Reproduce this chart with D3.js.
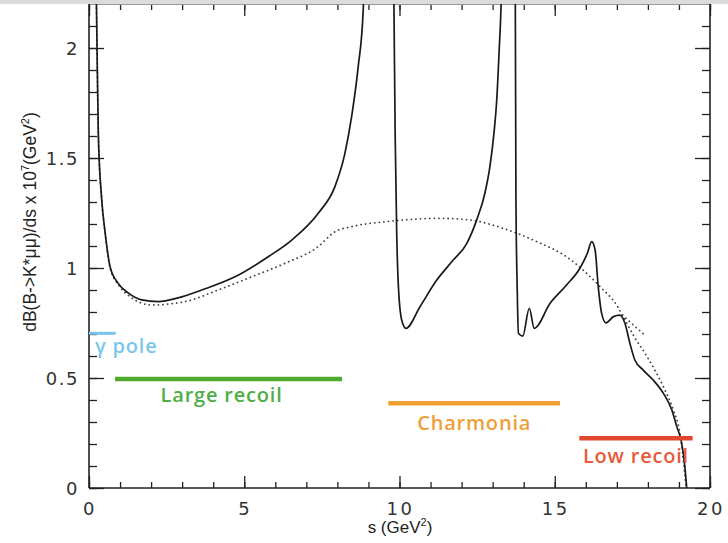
<!DOCTYPE html>
<html>
<head>
<meta charset="utf-8">
<script src="https://cdn.jsdelivr.net/npm/d3@7"></script>
<style>
  html, body { margin: 0; padding: 0; background: #fff; }
  svg { display: block; }
</style>
</head>
<body>
<svg id="chart" width="728" height="543"></svg>
<script>
// ---------------- data ----------------
// Solid curve (with charmonium resonances); values above the frame are clipped
const solidS = [0.20, 0.25, 0.30, 0.41, 0.52, 0.68, 0.94, 1.27, 1.70, 2.23, 2.87, 3.63, 4.70, 5.76, 6.53, 7.39, 7.92, 8.24, 8.46, 8.67, 8.83, 8.92,
  9.74, 9.82, 9.86, 9.91, 9.96, 10.07, 10.21, 10.66, 11.20, 11.73, 12.16, 12.49, 12.75, 12.91, 13.04, 13.13, 13.21, 13.27, 13.33,
  13.68, 13.73, 13.75, 13.79, 13.83, 13.97, 14.18, 14.34, 14.85, 15.38, 15.81, 16.05, 16.19, 16.30, 16.40, 16.51, 16.65, 16.89, 17.10,
  17.26, 17.42, 17.58, 17.85, 18.17, 18.50, 18.77, 18.93, 19.09, 19.19, 19.25];
const solidV = [2.60, 2.095, 1.61, 1.31, 1.16, 1.005, 0.93, 0.886, 0.855, 0.847, 0.864, 0.90, 0.96, 1.05, 1.127, 1.25, 1.37, 1.52, 1.69, 1.915, 2.17, 2.60,
  2.60, 2.20, 1.61, 1.16, 0.93, 0.764, 0.726, 0.824, 0.945, 1.036, 1.11, 1.22, 1.34, 1.46, 1.61, 1.76, 1.99, 2.19, 2.60,
  2.60, 2.20, 1.31, 0.915, 0.703, 0.69, 0.817, 0.726, 0.84, 0.923, 0.999, 1.067, 1.12, 1.082, 0.915, 0.794, 0.751, 0.779, 0.786,
  0.749, 0.658, 0.582, 0.536, 0.491, 0.43, 0.355, 0.279, 0.203, 0.097, 0.0];

// Dotted curve (non-resonant)
const dottedS = [0.20, 0.25, 0.30, 0.41, 0.52, 0.68, 0.94, 1.27, 2.02, 3.09, 4.16, 5.24, 6.31, 7.38, 7.92, 8.46, 9.53, 10.12, 11.20, 12.27,
  13.34, 14.42, 15.38, 16.46, 17.00, 17.18, 17.55, 17.96, 18.50, 18.82, 19.03, 19.14, 19.23];
const dottedV = [2.60, 2.095, 1.61, 1.31, 1.16, 1.0, 0.925, 0.875, 0.832, 0.847, 0.90, 0.96, 1.021, 1.097, 1.165, 1.188, 1.21, 1.218, 1.226, 1.218,
  1.18, 1.12, 1.051, 0.915, 0.83, 0.786, 0.69, 0.60, 0.46, 0.355, 0.249, 0.127, 0.0];

// Short dotted branch
const branchS = [17.18, 17.50, 17.90];
const branchV = [0.786, 0.745, 0.695];

// Kinematic regions
const regionNames = ["\u03b3 pole", "Large recoil", "Charmonia", "Low recoil"];
const regionStart = [0.0, 0.84, 9.64, 15.79];
const regionEnd   = [0.86, 8.15, 15.17, 19.44];
const regionLevel = [0.703, 0.495, 0.385, 0.226];
const regionColors = ["#78c4e8", "#4daa2c", "#f0a032", "#e0472d"];
const regionTextColors = ["#7cc6ea", "#4fae45", "#eca03a", "#e85a3a"];

// Axes
const xMajor = [0, 5, 10, 15, 20];
const xMinor = d3.range(0, 21, 1);
const yMajor = [0, 0.5, 1, 1.5, 2];
const yMinor = d3.range(0, 22, 1).map(d => d / 10);
const xTitle = "s (GeV";
const yTitle = "dB(B->K*\u03bc\u03bc)/ds x 10";

// ---------------- drawing ----------------
const svg = d3.select("#chart");
const L = 89, R = 710, T = 4, B = 488;
const x = d3.scaleLinear().domain([0, 20]).range([L, R]);
const y = d3.scaleLinear().domain([0, 2.2]).range([B, T]);

// top grey band (screenshot edge)
svg.append("rect").attr("x", 0).attr("y", 0).attr("width", 728).attr("height", 4).attr("fill", "#dcdcdc");

svg.append("defs").append("clipPath").attr("id", "clip")
  .append("rect").attr("x", L).attr("y", T).attr("width", R - L).attr("height", B - T);

const axisColor = "#222";
function styleAxis(g) {
  g.select(".domain").remove();
  g.selectAll(".tick line").attr("stroke", axisColor).attr("stroke-width", 1.3);
  g.selectAll("text").remove();
}
// bottom
svg.append("g").attr("transform", `translate(0,${B})`).call(d3.axisBottom(x).tickValues(xMinor).tickSize(-6)).call(styleAxis);
svg.append("g").attr("transform", `translate(0,${B})`).call(d3.axisBottom(x).tickValues(xMajor).tickSize(-12)).call(styleAxis);
// top
svg.append("g").attr("transform", `translate(0,${T})`).call(d3.axisTop(x).tickValues(xMinor).tickSize(-6)).call(styleAxis);
svg.append("g").attr("transform", `translate(0,${T})`).call(d3.axisTop(x).tickValues(xMajor).tickSize(-12)).call(styleAxis);
// left
svg.append("g").attr("transform", `translate(${L},0)`).call(d3.axisLeft(y).tickValues(yMinor).tickSize(-8)).call(styleAxis);
svg.append("g").attr("transform", `translate(${L},0)`).call(d3.axisLeft(y).tickValues(yMajor).tickSize(-15)).call(styleAxis);
// right
svg.append("g").attr("transform", `translate(${R},0)`).call(d3.axisRight(y).tickValues(yMinor).tickSize(-8)).call(styleAxis);
svg.append("g").attr("transform", `translate(${R},0)`).call(d3.axisRight(y).tickValues(yMajor).tickSize(-15)).call(styleAxis);

// frame
svg.append("line").attr("x1", L).attr("x2", R).attr("y1", T + 0.5).attr("y2", T + 0.5).attr("stroke", "#999").attr("stroke-width", 1);
svg.append("line").attr("x1", L).attr("x2", R).attr("y1", B).attr("y2", B).attr("stroke", axisColor).attr("stroke-width", 1.6);
svg.append("line").attr("x1", L).attr("x2", L).attr("y1", T).attr("y2", B).attr("stroke", axisColor).attr("stroke-width", 1.6);
svg.append("line").attr("x1", R).attr("x2", R).attr("y1", T).attr("y2", B).attr("stroke", axisColor).attr("stroke-width", 1.6);

// tick labels
const tickFont = "'DejaVu Sans', sans-serif";
svg.append("g").selectAll("text").data(xMajor).join("text")
  .attr("x", d => x(d) + 1).attr("y", B + 27)
  .attr("text-anchor", "middle")
  .attr("font-family", tickFont).attr("font-size", 18).attr("letter-spacing", 2.5)
  .attr("fill", "#333").text(d => d);
svg.append("g").selectAll("text").data(yMajor).join("text")
  .attr("x", 79).attr("y", d => y(d) + 7)
  .attr("text-anchor", "end")
  .attr("font-family", tickFont).attr("font-size", 18).attr("letter-spacing", 1.5)
  .attr("fill", "#333").text(d => d);

// axis titles
const xt = svg.append("text").attr("x", 400).attr("y", 533).attr("text-anchor", "middle")
  .attr("font-family", "'Liberation Sans', Arial, sans-serif").attr("font-size", 17).attr("fill", "#222");
xt.append("tspan").text(xTitle);
xt.append("tspan").attr("dy", -7).attr("font-size", 11).text("2");
xt.append("tspan").attr("dy", 7).text(")");

const yt = svg.append("text").attr("transform", "translate(36,222) rotate(-90)").attr("text-anchor", "middle")
  .attr("font-family", "'Liberation Sans', Arial, sans-serif").attr("font-size", 17.5).attr("fill", "#222");
yt.append("tspan").text(yTitle);
yt.append("tspan").attr("dy", -7).attr("font-size", 11).text("7");
yt.append("tspan").attr("dy", 7).text("(GeV");
yt.append("tspan").attr("dy", -7).attr("font-size", 11).text("2");
yt.append("tspan").attr("dy", 7).text(")");

// curves
const line = d3.line().x(d => x(d[0])).y(d => y(d[1])).curve(d3.curveMonotoneX);
const plot = svg.append("g").attr("clip-path", "url(#clip)");
plot.append("path").datum(dottedS.map((s, i) => [s, dottedV[i]]))
  .attr("d", line).attr("fill", "none").attr("stroke", "#444").attr("stroke-width", 1.8)
  .attr("stroke-linecap", "round").attr("stroke-dasharray", "0.1,4.5");
plot.append("path").datum(branchS.map((s, i) => [s, branchV[i]]))
  .attr("d", line).attr("fill", "none").attr("stroke", "#444").attr("stroke-width", 1.8)
  .attr("stroke-linecap", "round").attr("stroke-dasharray", "0.1,4.5");
plot.append("path").datum(solidS.map((s, i) => [s, solidV[i]]))
  .attr("d", line).attr("fill", "none").attr("stroke", "#1a1a1a").attr("stroke-width", 1.7)
  .attr("stroke-linejoin", "round");

// regions
const labelDy = [20, 23, 27, 25];
const regions = regionNames.map((n, i) => ({ n, a: regionStart[i], b: regionEnd[i], v: regionLevel[i], c: regionColors[i], tc: regionTextColors[i], i }));
svg.append("g").selectAll("line").data(regions).join("line")
  .attr("x1", d => x(d.a)).attr("x2", d => x(d.b))
  .attr("y1", d => y(d.v)).attr("y2", d => y(d.v))
  .attr("stroke", d => d.c).attr("stroke-width", d => d.i === 0 ? 3 : 4.5);
svg.append("g").selectAll("text").data(regions).join("text")
  .attr("x", d => d.i === 0 ? x(d.a) + 6 : (x(d.a) + x(d.b)) / 2 - (d.i === 1 ? 7 : 0))
  .attr("y", d => y(d.v) + labelDy[d.i])
  .attr("text-anchor", d => d.i === 0 ? "start" : "middle")
  .attr("font-family", "'Open Sans', sans-serif").attr("font-weight", 600).attr("font-size", 20)
  .attr("letter-spacing", 0.8)
  .attr("fill", d => d.tc).text(d => d.n);
</script>
</body>
</html>
